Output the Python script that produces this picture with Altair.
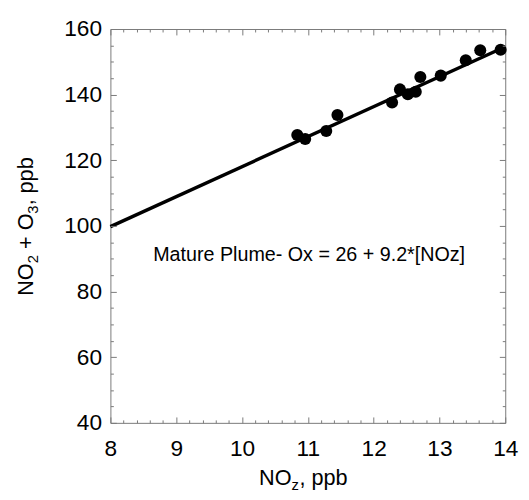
import altair as alt
import pandas as pd

# ---- data ----
nox = [10.84, 10.96, 11.28, 11.45, 12.28, 12.40, 12.52, 12.64, 12.71, 13.02, 13.40, 13.62, 13.93]
ox = [127.7, 126.5, 128.9, 133.8, 137.6, 141.6, 140.1, 140.9, 145.4, 145.8, 150.5, 153.5, 153.7]
line_x = [8.0, 14.0]
line_y = [99.8, 154.6]
x_major = [8, 9, 10, 11, 12, 13, 14]
y_major = [40, 60, 80, 100, 120, 140, 160]
x_minor = [round(8 + 0.2 * i, 1) for i in range(31) if i % 5]
y_minor = [40 + 5 * i for i in range(25) if i % 4]
annotation = ["Mature Plume- Ox = 26 + 9.2*[NOz]"]
annot_x = [11.02]
annot_y = [91.0]

FONT = "Liberation Sans"
GRAY = "#7a7a7a"
W, H = 401, 400

xs = alt.Scale(domain=[8, 14], nice=False, zero=False)
ys = alt.Scale(domain=[40, 160], nice=False, zero=False)

pts = pd.DataFrame({"x": nox, "y": ox})
ln = pd.DataFrame({"x": line_x, "y": line_y})
ann = pd.DataFrame({"x": annot_x, "y": annot_y, "t": annotation})


def tick_axis(orient, values, size):
    return alt.Axis(orient=orient, values=values, tickSize=size, offset=-size,
                    labels=False, domain=False, grid=False, title="",
                    ticks=True, tickColor=GRAY, tickWidth=1, zindex=1)


# labels-only axes + points
points = alt.Chart(pts).mark_circle(size=150, color="black", opacity=1).encode(
    x=alt.X("x:Q", scale=xs, axis=alt.Axis(
        orient="bottom", values=x_major, ticks=False, tickSize=0, domain=False,
        grid=False, labelFontSize=23, labelPadding=15, labelColor="black",
        labelFont=FONT, labelFlush=False, labelOverlap=False, title="", format="d")),
    y=alt.Y("y:Q", scale=ys, axis=alt.Axis(
        orient="left", values=y_major, ticks=False, tickSize=0, domain=False,
        grid=False, labelFontSize=23, labelPadding=9, labelColor="black",
        labelFont=FONT, labelOverlap=False, title="", format="d")),
)

fit = alt.Chart(ln).mark_line(color="black", strokeWidth=3.5).encode(
    x=alt.X("x:Q", scale=xs, axis=tick_axis("bottom", x_major, 6)),
    y=alt.Y("y:Q", scale=ys, axis=tick_axis("left", y_major, 6)),
)

top_major = alt.Chart(ln).mark_line(opacity=0).encode(
    x=alt.X("x:Q", scale=xs, axis=tick_axis("top", x_major, 6)),
    y=alt.Y("y:Q", scale=ys, axis=tick_axis("right", y_major, 6)),
)

minor_bl = alt.Chart(ln).mark_line(opacity=0).encode(
    x=alt.X("x:Q", scale=xs, axis=tick_axis("bottom", x_minor, 3)),
    y=alt.Y("y:Q", scale=ys, axis=tick_axis("left", y_minor, 3)),
)

minor_tr = alt.Chart(ln).mark_line(opacity=0).encode(
    x=alt.X("x:Q", scale=xs, axis=tick_axis("top", x_minor, 3)),
    y=alt.Y("y:Q", scale=ys, axis=tick_axis("right", y_minor, 3)),
)

note = alt.Chart(ann).mark_text(font=FONT, fontSize=20, color="black",
                                align="center", baseline="middle").encode(
    x=alt.X("x:Q", scale=xs, axis=None),
    y=alt.Y("y:Q", scale=ys, axis=None),
    text="t:N",
)


def title_pieces(pieces, ax, ay, angle):
    layers = []
    for txt, size, dx, dy in pieces:
        layers.append(
            alt.Chart(pd.DataFrame({"t": [txt]})).mark_text(
                font=FONT, fontSize=size, color="black", align="left",
                baseline="alphabetic", angle=angle, dx=dx, dy=dy,
            ).encode(x=alt.value(ax), y=alt.value(ay), text="t:N")
        )
    return layers


# x title: NO_z, ppb
xt = title_pieces([
    ("NO", 22, -47, 0),
    ("z", 15, -14, 5),
    (", ppb", 22, -6, 0),
], 198, 463, 0)

# y title: NO_2 + O_3, ppb (rotated)
yt = title_pieces([
    ("NO", 22, -71, 0),
    ("2", 15, -38, 5),
    ("+", 22, -23.5, 0),
    ("O", 22, -4.5, 0),
    ("3", 15, 12.5, 5),
    (",", 22, 21, 0),
    ("ppb", 22, 33, 0),
], -78.5, 200, 270)

chart = alt.layer(
    minor_bl, minor_tr, top_major, fit, points, note, *xt, *yt
).resolve_axis(x="independent", y="independent").properties(
    width=W, height=H,
    autosize=alt.AutoSizeParams(type="none"),
    padding={"left": 104, "top": 17.5, "right": 16, "bottom": 74.5},
).configure(font=FONT).configure_view(stroke=GRAY, strokeWidth=1)

chart.save("out.html", embed_options={"renderer": "svg", "actions": False})
